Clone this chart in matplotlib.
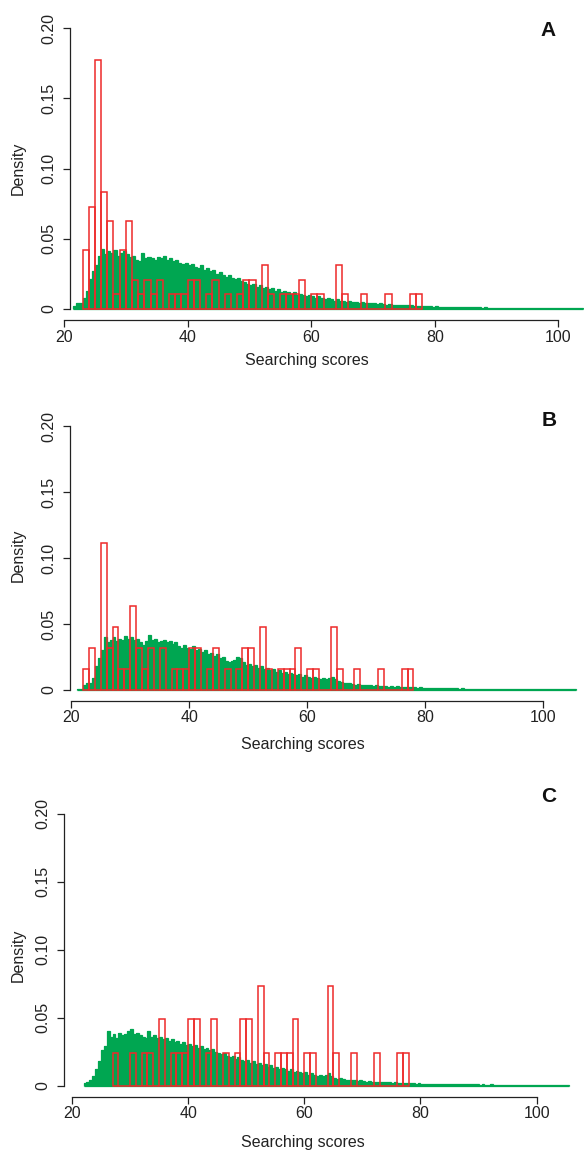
import numpy as np
import matplotlib
matplotlib.use("Agg")
import matplotlib.pyplot as plt

# ---------------- data ----------------
panel_letters = ["A", "B", "C"]
x_ticks = [20, 40, 60, 80, 100]
x_tick_labels = ["20", "40", "60", "80", "100"]
y_ticks = [0, 0.05, 0.10, 0.15, 0.20]
y_tick_labels = ["0", "0.05", "0.10", "0.15", "0.20"]
x_label = "Searching scores"
y_label = "Density"

red_bin_width = 1.0
green_bin_width = 0.5

# red histograms: counts per unit bin, starting at the given score
red_a_first = 23
red_a_counts = [4, 7, 17, 8, 6, 1, 4, 6, 2, 1, 2, 1, 2, 0, 1, 1, 1, 2, 2, 0,
                1, 2, 0, 1, 0, 1, 2, 2, 0, 3, 1, 0, 1, 1, 1, 2, 0, 1, 1, 0,
                0, 3, 1, 0, 0, 1, 0, 0, 0, 1, 0, 0, 0, 1, 1]
red_b_first = 22
red_b_counts = [1, 2, 0, 7, 2, 3, 1, 1, 4, 2, 1, 2, 0, 2, 0, 1, 1, 1, 2, 2,
                0, 1, 2, 0, 1, 0, 1, 2, 2, 0, 3, 1, 0, 1, 1, 1, 2, 0, 1, 1,
                0, 0, 3, 1, 0, 0, 1, 0, 0, 0, 1, 0, 0, 0, 1, 1]
red_c_first = 27
red_c_counts = [1, 0, 0, 1, 0, 1, 1, 0, 2, 0, 1, 1, 1, 2, 2, 0, 1, 2, 0, 1,
                0, 1, 2, 2, 0, 3, 1, 0, 1, 1, 1, 2, 0, 1, 1, 0, 0, 3, 1, 0,
                0, 1, 0, 0, 0, 1, 0, 0, 0, 1, 1]

# green histograms: densities in half-unit bins (10 bins = 5 score units per row)
green_a_first = 21.5
green_a = [
    0.002, 0.004, 0.004, 0.008, 0.013, 0.021, 0.027, 0.031, 0.038, 0.043,
    0.039, 0.041, 0.040, 0.042, 0.038, 0.040, 0.041, 0.039, 0.037, 0.038,
    0.035, 0.034, 0.040, 0.036, 0.037, 0.036, 0.035, 0.037, 0.036, 0.038,
    0.035, 0.036, 0.034, 0.035, 0.033, 0.032, 0.033, 0.031, 0.032, 0.030,
    0.029, 0.031, 0.028, 0.029, 0.027, 0.028, 0.025, 0.026, 0.024, 0.023,
    0.024, 0.022, 0.021, 0.022, 0.020, 0.019, 0.018, 0.017, 0.018, 0.016,
    0.017, 0.015, 0.016, 0.014, 0.015, 0.013, 0.014, 0.012, 0.013, 0.012,
    0.011, 0.012, 0.010, 0.011, 0.010, 0.009, 0.010, 0.009, 0.008, 0.009,
    0.008, 0.007, 0.008, 0.007, 0.006, 0.007, 0.006, 0.006, 0.005, 0.006,
    0.005, 0.005, 0.0045, 0.005, 0.004, 0.0045, 0.004, 0.004, 0.0035, 0.004,
    0.0035, 0.003, 0.0035, 0.003, 0.003, 0.0028, 0.003, 0.0025, 0.0027, 0.0025,
    0.0022, 0.0024, 0.002, 0.0022, 0.0018, 0.002, 0.0017, 0.0018, 0.0016, 0.0017,
    0.0015, 0.0016, 0.0014, 0.0015, 0.0013, 0.0014, 0.0012, 0.0013, 0.0012, 0.0011,
    0.0012, 0.0011, 0.0010, 0.0011, 0.0010, 0.0010, 0.0009, 0.0010, 0.0009, 0.0009,
    0.0008, 0.0009, 0.0008, 0.0008, 0.0009, 0.0008, 0.0007, 0.0008, 0.0007, 0.0008,
    0.0007, 0.0007, 0.0006, 0.0007, 0.0007, 0.0006, 0.0007, 0.0006, 0.0006, 0.0007,
    0.0006, 0.0006, 0.0005, 0.0006, 0.0006,
]

green_b_first = 21.0
green_b = [
    0.001, 0.001, 0.004, 0.005, 0.005, 0.009, 0.018, 0.024, 0.030, 0.040,
    0.036, 0.038, 0.040, 0.037, 0.039, 0.038, 0.041, 0.039, 0.040, 0.038,
    0.039, 0.036, 0.034, 0.037, 0.042, 0.038, 0.039, 0.036, 0.037, 0.038,
    0.036, 0.037, 0.035, 0.036, 0.033, 0.032, 0.034, 0.032, 0.031, 0.033,
    0.030, 0.031, 0.029, 0.030, 0.027, 0.028, 0.026, 0.027, 0.024, 0.025,
    0.022, 0.021, 0.022, 0.023, 0.025, 0.024, 0.021, 0.019, 0.020, 0.018,
    0.019, 0.017, 0.018, 0.016, 0.017, 0.015, 0.016, 0.014, 0.015, 0.013,
    0.014, 0.012, 0.013, 0.012, 0.011, 0.012, 0.010, 0.011, 0.010, 0.009,
    0.010, 0.009, 0.008, 0.009, 0.008, 0.009, 0.010, 0.008, 0.007, 0.006,
    0.005, 0.0055, 0.005, 0.0045, 0.004, 0.0045, 0.004, 0.0035, 0.004, 0.0035,
    0.003, 0.0035, 0.003, 0.0028, 0.003, 0.0026, 0.0028, 0.0025, 0.0027, 0.0024,
    0.0025, 0.0022, 0.0024, 0.002, 0.0022, 0.0018, 0.0019, 0.0017, 0.0016, 0.0017,
    0.0015, 0.0016, 0.0014, 0.0015, 0.0013, 0.0014, 0.0012, 0.0013, 0.0012, 0.0011,
    0.0012, 0.0011, 0.0010, 0.0011, 0.0010, 0.0010, 0.0009, 0.0010, 0.0009, 0.0009,
    0.0008, 0.0009, 0.0008, 0.0008, 0.0009, 0.0008, 0.0007, 0.0008, 0.0007, 0.0008,
    0.0007, 0.0007, 0.0006, 0.0007, 0.0007, 0.0006, 0.0007, 0.0006, 0.0006, 0.0007,
    0.0006, 0.0006, 0.0005, 0.0006, 0.0006, 0.0005, 0.0006, 0.0005, 0.0006,
]

green_c_first = 22.0
green_c = [
    0.002, 0.003, 0.004, 0.007, 0.012, 0.018, 0.026, 0.029, 0.040, 0.036,
    0.038, 0.035, 0.039, 0.037, 0.038, 0.040, 0.042, 0.038, 0.039, 0.037,
    0.036, 0.035, 0.040, 0.036, 0.037, 0.035, 0.036, 0.034, 0.035, 0.033,
    0.034, 0.032, 0.033, 0.031, 0.032, 0.030, 0.031, 0.029, 0.030, 0.028,
    0.029, 0.027, 0.028, 0.026, 0.027, 0.025, 0.024, 0.023, 0.024, 0.022,
    0.021, 0.022, 0.020, 0.021, 0.019, 0.018, 0.019, 0.017, 0.018, 0.016,
    0.017, 0.015, 0.016, 0.014, 0.015, 0.013, 0.014, 0.012, 0.013, 0.012,
    0.011, 0.012, 0.010, 0.011, 0.010, 0.009, 0.010, 0.008, 0.009, 0.008,
    0.007, 0.008, 0.007, 0.008, 0.009, 0.007, 0.006, 0.005, 0.0055, 0.005,
    0.0045, 0.004, 0.0045, 0.004, 0.0035, 0.004, 0.0035, 0.003, 0.0035, 0.003,
    0.0028, 0.003, 0.0026, 0.0025, 0.0027, 0.0024, 0.0022, 0.0024, 0.002, 0.0022,
    0.0019, 0.002, 0.0018, 0.0017, 0.0016, 0.0017, 0.0015, 0.0016, 0.0014, 0.0015,
    0.0013, 0.0014, 0.0012, 0.0013, 0.0012, 0.0011, 0.0012, 0.0011, 0.0010, 0.0011,
    0.0010, 0.0010, 0.0009, 0.0010, 0.0009, 0.0009, 0.0008, 0.0009, 0.0008, 0.0008,
    0.0009, 0.0008, 0.0007, 0.0008, 0.0007, 0.0008, 0.0007, 0.0007, 0.0006, 0.0007,
    0.0007, 0.0006, 0.0007, 0.0006, 0.0006, 0.0007, 0.0006, 0.0006, 0.0005, 0.0006,
    0.0006, 0.0005, 0.0006, 0.0005, 0.0006, 0.0005, 0.0006,
]

panels = [
    (red_a_first, red_a_counts, green_a_first, green_a),
    (red_b_first, red_b_counts, green_b_first, green_b),
    (red_c_first, red_c_counts, green_c_first, green_c),
]

# ---------------- layout (pixels) ----------------
W, H = 584, 1150
layout = [
    dict(x20=64.0, sx=6.18, yax=70.0, y0=309.0, sy=1405.0,
         letter=(548, 30), xlab=(307, 361), ylab=(18, 168)),
    dict(x20=71.2, sx=5.90, yax=70.0, y0=690.0, sy=1320.0,
         letter=(549, 420), xlab=(303, 745), ylab=(18, 555)),
    dict(x20=71.9, sx=5.81, yax=64.0, y0=1085.7, sy=1360.0,
         letter=(549, 797), xlab=(303, 1142), ylab=(18, 955)),
]

GREEN = "#00a651"
RED = "#ee2a2a"
FONT = "Liberation Sans"
FS = 11.5

plt.rcParams["font.family"] = [FONT, "DejaVu Sans"]

fig = plt.figure(figsize=(W / 100, H / 100), dpi=100)

ax_left_px = 56.0
for (rfirst, rcounts, gfirst, gvals), L, letter in zip(panels, layout, panel_letters):
    bottom_px = L["y0"] + 0.008 * L["sy"]
    top_px = L["y0"] - 0.212 * L["sy"]
    ax = fig.add_axes([ax_left_px / W, 1 - bottom_px / H,
                       (W - ax_left_px) / W, (bottom_px - top_px) / H])
    ax.set_xlim(20 - (L["x20"] - ax_left_px) / L["sx"],
                20 + (W - L["x20"]) / L["sx"])
    ax.set_ylim(-0.008, 0.212)

    # green background histogram (filled, with a thin border of same colour)
    g = np.asarray(gvals)
    gedges = gfirst + green_bin_width * np.arange(len(g) + 1)
    ax.stairs(g, gedges, fill=True, color=GREEN, linewidth=0, zorder=2)
    ax.stairs(g, gedges, baseline=0, fill=False, color=GREEN,
              linewidth=0.9, zorder=2)
    ax.plot([gedges[0], gedges[-1]], [0, 0], color=GREEN, linewidth=0.9,
            zorder=2, solid_capstyle="butt")

    # red outlined histogram (density)
    rc = np.asarray(rcounts, dtype=float)
    rdens = rc / (rc.sum() * red_bin_width)
    rleft = rfirst + red_bin_width * np.arange(len(rc))
    ax.bar(rleft, rdens, width=red_bin_width, align="edge", fill=False,
           edgecolor=RED, linewidth=1.1, zorder=3)

    for s in ("top", "right"):
        ax.spines[s].set_visible(False)
    yax_data = 20 + (L["yax"] - L["x20"]) / L["sx"]
    ax.spines["left"].set_position(("data", yax_data))
    ax.spines["left"].set_bounds(0, 0.20)
    ax.spines["bottom"].set_bounds(20, 100)
    for s in ("left", "bottom"):
        ax.spines[s].set_linewidth(0.9)
        ax.spines[s].set_color("#222222")
    ax.set_xticks(x_ticks)
    ax.set_xticklabels(x_tick_labels, fontsize=FS)
    ax.set_yticks(y_ticks)
    ax.set_yticklabels(y_tick_labels, fontsize=FS, rotation=90, va="center")
    ax.tick_params(axis="both", direction="out", length=5, width=0.9,
                   color="#222222", labelcolor="#222222")
    ax.tick_params(axis="x", pad=2)
    ax.tick_params(axis="y", pad=5)
    ax.patch.set_visible(False)

    fig.text(L["letter"][0] / W, 1 - L["letter"][1] / H, letter,
             fontsize=15, fontweight="bold", ha="center", va="center",
             color="#111111")
    fig.text(L["xlab"][0] / W, 1 - L["xlab"][1] / H, x_label,
             fontsize=FS, ha="center", va="center", color="#222222")
    fig.text(L["ylab"][0] / W, 1 - L["ylab"][1] / H, y_label,
             fontsize=FS, ha="center", va="center", rotation=90,
             color="#222222")

fig.savefig("out.png", dpi=100)
